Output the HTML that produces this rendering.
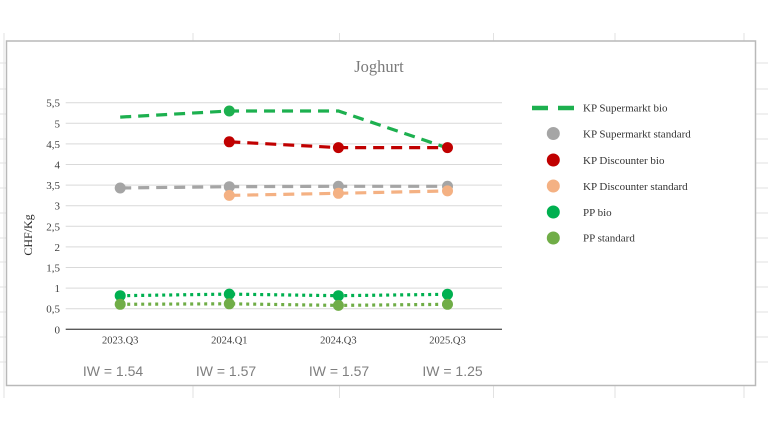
<!DOCTYPE html>
<html>
<head>
<meta charset="utf-8">
<style>
  html, body { margin: 0; padding: 0; background: #ffffff; }
  body { width: 768px; height: 432px; overflow: hidden; }
  svg { display: block; }
</style>
</head>
<body>
<svg width="768" height="432" viewBox="0 0 768 432" xmlns="http://www.w3.org/2000/svg">
  <!-- spreadsheet background grid -->
  <g stroke="#e2e2e2" stroke-width="1">
    <line x1="4" y1="33" x2="4" y2="398"/>
    <line x1="193" y1="33" x2="193" y2="41"/>
    <line x1="193" y1="386" x2="193" y2="398"/>
    <line x1="339.5" y1="33" x2="339.5" y2="41"/>
    <line x1="339.5" y1="386" x2="339.5" y2="398"/>
    <line x1="493.5" y1="33" x2="493.5" y2="41"/>
    <line x1="493.5" y1="386" x2="493.5" y2="398"/>
    <line x1="615" y1="33" x2="615" y2="41"/>
    <line x1="615" y1="386" x2="615" y2="398"/>
    <line x1="744" y1="33" x2="744" y2="41"/>
    <line x1="744" y1="386" x2="744" y2="398"/>
    <g>
      <line x1="0" y1="63" x2="6" y2="63"/><line x1="756" y1="63" x2="768" y2="63"/>
      <line x1="0" y1="89" x2="6" y2="89"/><line x1="756" y1="89" x2="768" y2="89"/>
      <line x1="0" y1="114" x2="6" y2="114"/><line x1="756" y1="114" x2="768" y2="114"/>
      <line x1="0" y1="139" x2="6" y2="139"/><line x1="756" y1="139" x2="768" y2="139"/>
      <line x1="0" y1="163" x2="6" y2="163"/><line x1="756" y1="163" x2="768" y2="163"/>
      <line x1="0" y1="188" x2="6" y2="188"/><line x1="756" y1="188" x2="768" y2="188"/>
      <line x1="0" y1="213" x2="6" y2="213"/><line x1="756" y1="213" x2="768" y2="213"/>
      <line x1="0" y1="238" x2="6" y2="238"/><line x1="756" y1="238" x2="768" y2="238"/>
      <line x1="0" y1="262" x2="6" y2="262"/><line x1="756" y1="262" x2="768" y2="262"/>
      <line x1="0" y1="287" x2="6" y2="287"/><line x1="756" y1="287" x2="768" y2="287"/>
      <line x1="0" y1="312" x2="6" y2="312"/><line x1="756" y1="312" x2="768" y2="312"/>
      <line x1="0" y1="337" x2="6" y2="337"/><line x1="756" y1="337" x2="768" y2="337"/>
      <line x1="0" y1="362" x2="6" y2="362"/><line x1="756" y1="362" x2="768" y2="362"/>
    </g>
  </g>

  <!-- chart frame -->
  <rect x="6.5" y="41" width="749" height="344.5" fill="#ffffff" stroke="#b9b9b9" stroke-width="1.5"/>

  <!-- title -->
  <text x="379" y="72" text-anchor="middle" font-family="Liberation Serif, serif" font-size="16.5" fill="#7a7a7a">Joghurt</text>

  <!-- horizontal gridlines -->
  <g stroke="#d9d9d9" stroke-width="1">
    <line x1="65.7" y1="308.7" x2="502" y2="308.7"/>
    <line x1="65.7" y1="288.1" x2="502" y2="288.1"/>
    <line x1="65.7" y1="267.5" x2="502" y2="267.5"/>
    <line x1="65.7" y1="246.9" x2="502" y2="246.9"/>
    <line x1="65.7" y1="226.3" x2="502" y2="226.3"/>
    <line x1="65.7" y1="205.7" x2="502" y2="205.7"/>
    <line x1="65.7" y1="185.1" x2="502" y2="185.1"/>
    <line x1="65.7" y1="164.5" x2="502" y2="164.5"/>
    <line x1="65.7" y1="143.9" x2="502" y2="143.9"/>
    <line x1="65.7" y1="123.3" x2="502" y2="123.3"/>
    <line x1="65.7" y1="102.7" x2="502" y2="102.7"/>
  </g>
  <!-- x axis -->
  <line x1="65.7" y1="329.3" x2="502" y2="329.3" stroke="#595959" stroke-width="1.3"/>

  <!-- y tick labels -->
  <g font-family="Liberation Serif, serif" font-size="11" fill="#404040" text-anchor="end">
    <text x="60" y="333.3">0</text>
    <text x="60" y="312.7">0,5</text>
    <text x="60" y="292.1">1</text>
    <text x="60" y="271.5">1,5</text>
    <text x="60" y="250.9">2</text>
    <text x="60" y="230.3">2,5</text>
    <text x="60" y="209.7">3</text>
    <text x="60" y="189.1">3,5</text>
    <text x="60" y="168.5">4</text>
    <text x="60" y="147.9">4,5</text>
    <text x="60" y="127.3">5</text>
    <text x="60" y="106.7">5,5</text>
  </g>

  <!-- y axis title -->
  <text transform="translate(32,235) rotate(-90)" text-anchor="middle" font-family="Liberation Serif, serif" font-size="12" fill="#262626">CHF/Kg</text>

  <!-- x tick labels -->
  <g font-family="Liberation Serif, serif" font-size="10.5" fill="#404040" text-anchor="middle">
    <text x="120.2" y="343.5">2023.Q3</text>
    <text x="229.3" y="343.5">2024.Q1</text>
    <text x="338.4" y="343.5">2024.Q3</text>
    <text x="447.5" y="343.5">2025.Q3</text>
  </g>

  <!-- IW labels -->
  <g font-family="Liberation Sans, sans-serif" font-size="14" fill="#7f7f7f" text-anchor="middle">
    <text x="113" y="376">IW = 1.54</text>
    <text x="226" y="376">IW = 1.57</text>
    <text x="339" y="376">IW = 1.57</text>
    <text x="452.5" y="376">IW = 1.25</text>
  </g>

  <!-- Series: KP Supermarkt bio -->
  <polyline points="120.2,117.1 229.3,111 338.4,111 447.5,148" fill="none" stroke="#1db04f" stroke-width="3.2" stroke-dasharray="11 7"/>
  <circle cx="229.3" cy="111" r="5.5" fill="#1db04f"/>

  <!-- Series: KP Supermarkt standard -->
  <polyline points="120.2,188 229.3,186.7 338.4,186.3 447.5,186.3" fill="none" stroke="#a5a5a5" stroke-width="3.2" stroke-dasharray="11 7"/>
  <g fill="#a5a5a5">
    <circle cx="120.2" cy="188" r="5.5"/>
    <circle cx="229.3" cy="186.7" r="5.5"/>
    <circle cx="338.4" cy="186.3" r="5.5"/>
    <circle cx="447.5" cy="186.3" r="5.5"/>
  </g>

  <!-- Series: KP Discounter bio -->
  <polyline points="229.3,141.8 338.4,147.6 447.5,147.6" fill="none" stroke="#c00000" stroke-width="3.2" stroke-dasharray="11 7"/>
  <g fill="#c00000">
    <circle cx="229.3" cy="141.8" r="5.5"/>
    <circle cx="338.4" cy="147.6" r="5.5"/>
    <circle cx="447.5" cy="147.6" r="5.5"/>
  </g>

  <!-- Series: KP Discounter standard -->
  <polyline points="229.3,195.4 338.4,193.3 447.5,190.9" fill="none" stroke="#f4b183" stroke-width="3.2" stroke-dasharray="11 7"/>
  <g fill="#f4b183">
    <circle cx="229.3" cy="195.4" r="5.5"/>
    <circle cx="338.4" cy="193.3" r="5.5"/>
    <circle cx="447.5" cy="190.9" r="5.5"/>
  </g>

  <!-- Series: PP bio -->
  <polyline points="120.2,295.7 229.3,294.1 338.4,295.7 447.5,294.3" fill="none" stroke="#00b050" stroke-width="3.2" stroke-dasharray="3 4"/>
  <g fill="#00b050">
    <circle cx="120.2" cy="295.7" r="5.5"/>
    <circle cx="229.3" cy="294.1" r="5.5"/>
    <circle cx="338.4" cy="295.7" r="5.5"/>
    <circle cx="447.5" cy="294.3" r="5.5"/>
  </g>

  <!-- Series: PP standard -->
  <polyline points="120.2,304.3 229.3,303.8 338.4,305.4 447.5,304.3" fill="none" stroke="#70ad47" stroke-width="3.2" stroke-dasharray="3 4"/>
  <g fill="#70ad47">
    <circle cx="120.2" cy="304.3" r="5.5"/>
    <circle cx="229.3" cy="303.8" r="5.5"/>
    <circle cx="338.4" cy="305.4" r="5.5"/>
    <circle cx="447.5" cy="304.3" r="5.5"/>
  </g>

  <!-- Legend -->
  <g>
    <line x1="532" y1="108" x2="548" y2="108" stroke="#1db04f" stroke-width="4.5"/>
    <line x1="558" y1="108" x2="574" y2="108" stroke="#1db04f" stroke-width="4.5"/>
    <circle cx="553.3" cy="133.5" r="6.5" fill="#a5a5a5"/>
    <circle cx="553.3" cy="160" r="6.5" fill="#c00000"/>
    <circle cx="553.3" cy="186" r="6.5" fill="#f4b183"/>
    <circle cx="553.3" cy="212" r="6.5" fill="#00b050"/>
    <circle cx="553.3" cy="238" r="6.5" fill="#70ad47"/>
    <g font-family="Liberation Serif, serif" font-size="11" fill="#333333">
      <text x="583" y="111.5">KP Supermarkt bio</text>
      <text x="583" y="137.5">KP Supermarkt standard</text>
      <text x="583" y="164">KP Discounter bio</text>
      <text x="583" y="190">KP Discounter standard</text>
      <text x="583" y="216">PP bio</text>
      <text x="583" y="241.5">PP standard</text>
    </g>
  </g>
</svg>
</body>
</html>
